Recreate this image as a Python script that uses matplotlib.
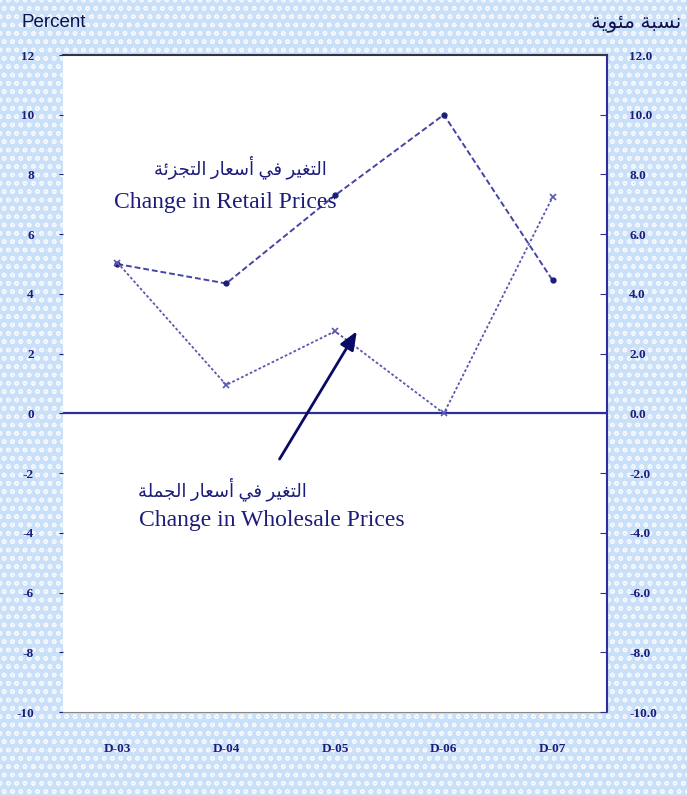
import matplotlib
matplotlib.use("Agg")
import matplotlib.pyplot as plt
import matplotlib.patches as mpatches

# data
years = ["D-03", "D-04", "D-05", "D-06", "D-07"]
retail = [5.0, 4.35, 7.3, 10.0, 4.45]
wholesale = [5.05, 0.95, 2.75, 0.0, 7.25]
left_ticks = [12, 10, 8, 6, 4, 2, 0, -2, -4, -6, -8, -10]
right_labels = ["12.0", "10.0", "8.0", "6.0", "4.0", "2.0", "0.0",
                "-2.0", "-4.0", "-6.0", "-8.0", "-10.0"]

lbl_retail_ar = "التغير في أسعار التجزئة"
lbl_retail_en = "Change in Retail Prices"
lbl_whole_ar = "التغير في أسعار الجملة"
lbl_whole_en = "Change in Wholesale Prices"
unit_en = "Percent"
unit_ar = "نسبة مئوية"

# tiny arabic shaper: isolated, final, initial, medial forms
FORMS = {
    "ا": (0xFE8D, 0xFE8E), "أ": (0xFE83, 0xFE84), "ة": (0xFE93, 0xFE94),
    "ر": (0xFEAD, 0xFEAE), "ز": (0xFEAF, 0xFEB0), "و": (0xFEED, 0xFEEE),
    "ب": (0xFE8F, 0xFE90, 0xFE91, 0xFE92), "ت": (0xFE95, 0xFE96, 0xFE97, 0xFE98),
    "ج": (0xFE9D, 0xFE9E, 0xFE9F, 0xFEA0), "س": (0xFEB1, 0xFEB2, 0xFEB3, 0xFEB4),
    "ع": (0xFEC9, 0xFECA, 0xFECB, 0xFECC), "غ": (0xFECD, 0xFECE, 0xFECF, 0xFED0),
    "ف": (0xFED1, 0xFED2, 0xFED3, 0xFED4), "ل": (0xFEDD, 0xFEDE, 0xFEDF, 0xFEE0),
    "م": (0xFEE1, 0xFEE2, 0xFEE3, 0xFEE4), "ن": (0xFEE5, 0xFEE6, 0xFEE7, 0xFEE8),
    "ي": (0xFEF1, 0xFEF2, 0xFEF3, 0xFEF4), "ئ": (0xFE89, 0xFE8A, 0xFE8B, 0xFE8C),
}


def shape(s):
    out = []
    for i, ch in enumerate(s):
        if ch not in FORMS:
            out.append(ch)
            continue
        prev = s[i - 1] if i > 0 else ""
        nxt = s[i + 1] if i + 1 < len(s) else ""
        jp = prev in FORMS and len(FORMS[prev]) == 4
        jn = nxt in FORMS and len(FORMS[ch]) == 4
        f = FORMS[ch]
        if jp and jn:
            c = f[3]
        elif jp:
            c = f[1]
        elif jn:
            c = f[2]
        else:
            c = f[0]
        out.append(chr(c))
    return "".join(reversed(out))


navy = "#1c1c7a"
ar_fam = ["Liberation Serif", "DejaVu Sans"]

fig = plt.figure(figsize=(6.87, 7.96), dpi=100, facecolor="#c9e0f8")
# dotted light-blue backdrop, kept behind the axes
fig.patches.append(mpatches.Rectangle((0, 0), 1, 1, transform=fig.transFigure,
                                      facecolor="none", edgecolor="white",
                                      hatch="oo", lw=0, alpha=0.8, zorder=-5))

ax = fig.add_axes([0.0917, 0.1055, 0.792, 0.8254], zorder=2)
ax.set_facecolor("white")
x = list(range(len(years)))

ax.axhline(0, color="#2e2e9c", lw=1.6, zorder=2)
ax.plot(x, retail, color="#4444a6", lw=1.4, ls=(0, (3, 1.5)),
        marker="o", ms=3.5, mfc=navy, mec=navy, zorder=3)
ax.plot(x, wholesale, color="#5858b0", lw=1.3, ls=(0, (1.5, 1.2)),
        marker="x", ms=4, mec="#5858b0", mew=1.2, zorder=3)

ax.set_xlim(-0.5, len(years) - 0.5)
ax.set_ylim(-10, 12)
ax.set_xticks(x)
ax.set_xticklabels(years)
ax.set_yticks(left_ticks)
ax.set_yticklabels([str(v) for v in left_ticks])
ax.tick_params(axis="x", length=0, pad=22, labelsize=9.5, labelcolor=navy)
ax.tick_params(axis="y", length=3, color=navy, pad=18, labelsize=9.5, labelcolor=navy)
for t in ax.get_xticklabels() + ax.get_yticklabels():
    t.set_fontfamily("Liberation Serif")
    t.set_fontweight("bold")

ax.spines["left"].set_visible(False)
ax.spines["top"].set_color("#333344")
ax.spines["top"].set_linewidth(1.5)
ax.spines["bottom"].set_color("#888888")
ax.spines["bottom"].set_linestyle((0, (2, 1)))
ax.spines["right"].set_color("#2e2e9c")
ax.spines["right"].set_linewidth(1.5)

ax2 = ax.twinx()
ax2.set_ylim(-10, 12)
ax2.set_yticks(left_ticks)
ax2.set_yticklabels(right_labels)
ax2.tick_params(axis="y", length=5, direction="in", color="#2e2e9c", pad=16,
                labelsize=9.5, labelcolor=navy)
for t in ax2.get_yticklabels():
    t.set_fontfamily("Liberation Serif")
    t.set_fontweight("bold")
for s in ax2.spines.values():
    s.set_visible(False)

# annotations
ax.text(1.13, 8.25, shape(lbl_retail_ar), family=ar_fam, fontsize=13,
        color=navy, ha="center", va="center")
ax.text(0.99, 7.05, lbl_retail_en, family="Liberation Serif", fontsize=17,
        color=navy, ha="center", va="center")
ax.text(0.96, -2.55, shape(lbl_whole_ar), family=ar_fam, fontsize=13,
        color=navy, ha="center", va="center")
ax.text(1.42, -3.6, lbl_whole_en, family="Liberation Serif", fontsize=17,
        color=navy, ha="center", va="center")
ax.annotate("", xy=(2.2, 2.75), xytext=(1.49, -1.53),
            arrowprops=dict(arrowstyle="-|>,head_length=1.1,head_width=0.45",
                            color="#0a0a66", lw=2, shrinkA=0, shrinkB=0))

fig.text(0.032, 0.972, unit_en, family="Liberation Sans", fontsize=13.5,
         color="#101050", ha="left", va="center")
fig.text(0.992, 0.972, shape(unit_ar), family=["Liberation Sans", "DejaVu Sans"],
         fontsize=14.5, color="#101050", ha="right", va="center")

fig.savefig("out.png", dpi=100, facecolor=fig.get_facecolor())
